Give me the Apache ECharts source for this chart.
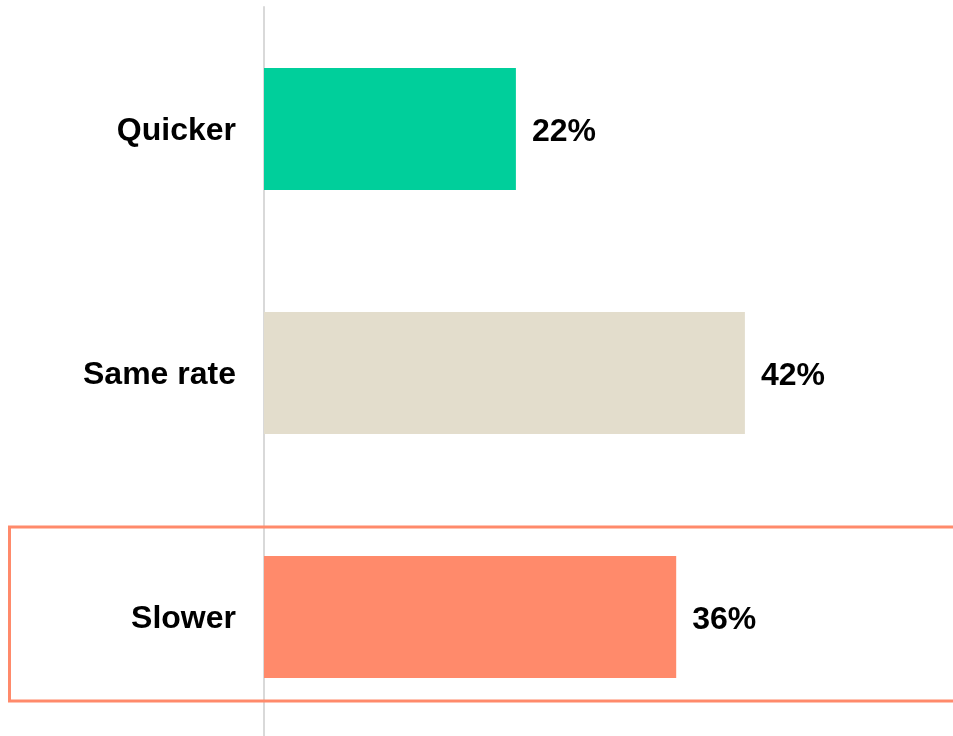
<!DOCTYPE html>
<html>
<head>
<meta charset="utf-8">
<script src="https://cdn.jsdelivr.net/npm/echarts@6/dist/echarts.min.js"></script>
<style>
  html, body { margin: 0; padding: 0; background: #fff; }
  #chart { width: 953px; height: 736px; }
</style>
</head>
<body>
<div id="chart"></div>
<script>
// data
const categories = ["Quicker", "Same rate", "Slower"];
const values = [22, 42, 36];
const barColors = ["#00cf9b", "#e3ddcc", "#ff8a6b"];
const highlightCat = "Slower";

const FONT = "'Liberation Sans', Arial, sans-serif";
const chart = echarts.init(document.getElementById("chart"));

const txt = { color: "#000", fontSize: 32, fontWeight: "bold", fontFamily: FONT };

const option = {
  animation: false,
  textStyle: { fontFamily: FONT },
  grid: { left: 264, top: 7, width: 687, height: 732, containLabel: false, outerBoundsMode: "none" },
  xAxis: {
    type: "value",
    min: 0,
    max: 60,
    show: false
  },
  yAxis: {
    type: "category",
    data: categories,
    inverse: true,
    axisLine: { show: true, lineStyle: { color: "#d9d9d9", width: 2 } },
    axisTick: { show: false },
    axisLabel: {
      margin: 28,
      formatter: v => "{a|" + v + "}",
      rich: { a: Object.assign({ padding: [5, 0, 0, 0] }, txt) }
    }
  },
  series: [{
    type: "bar",
    barWidth: "50%",
    data: values.map((v, i) => ({ value: v, itemStyle: { color: barColors[i] } })),
    label: {
      show: true,
      position: "right",
      distance: 16,
      formatter: "{a|{c}%}",
      rich: { a: Object.assign({ padding: [7, 0, 0, 0] }, txt) }
    }
  }]
};

chart.setOption(option);

// highlight box around the "Slower" row
const center = chart.convertToPixel({ yAxisIndex: 0 }, highlightCat);
chart.setOption({
  graphic: [{
    type: "rect",
    silent: true,
    z: 100,
    shape: { x: 9.5, y: center - 90, width: 960, height: 174 },
    style: { fill: "none", stroke: "#ff8a6b", lineWidth: 3 }
  }]
});
</script>
</body>
</html>
